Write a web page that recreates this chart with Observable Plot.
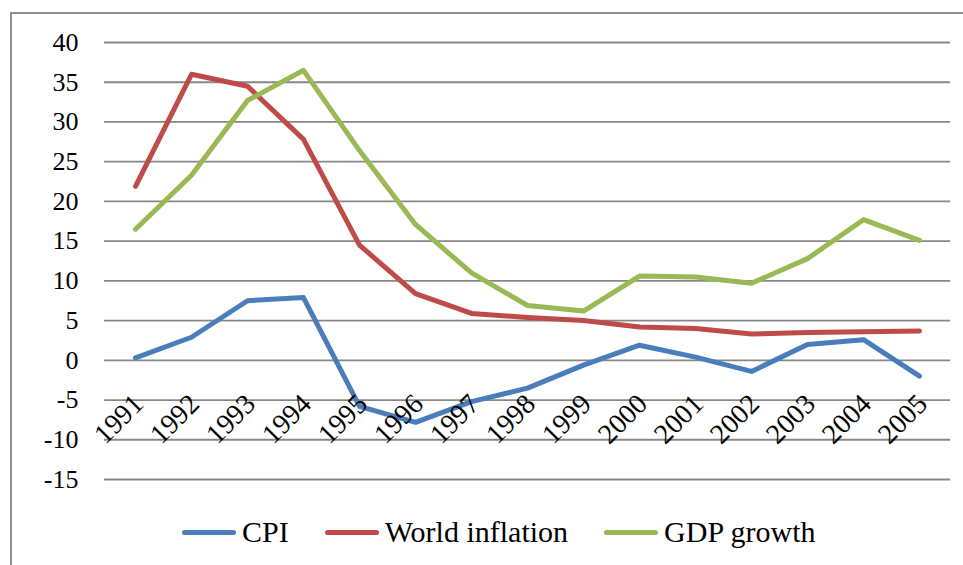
<!DOCTYPE html>
<html>
<head>
<meta charset="utf-8">
<script src="https://cdn.jsdelivr.net/npm/d3@7"></script>
<script src="https://cdn.jsdelivr.net/npm/@observablehq/plot@0.6"></script>
<style>
  html, body { margin: 0; padding: 0; background: #fff; }
  body { width: 963px; height: 565px; overflow: hidden; position: relative; font-family: "Liberation Serif", serif; }
  #frame { position: absolute; left: 10px; top: 12px; width: 980px; height: 600px; border-top: 2px solid #8e8e8e; border-left: 2px solid #8e8e8e; }
  #chart { position: absolute; left: 0; top: 0; }
  #chart svg, #chart svg g, #chart svg text { font-family: "Liberation Serif", serif !important; }
  #legend { position: absolute; left: 182px; top: 515px; display: flex; align-items: center; font-size: 30px; color: #000; white-space: nowrap; }
  .item { display: flex; align-items: center; margin-right: 36px; }
  .sw { display: inline-block; width: 54px; height: 5px; border-radius: 3px; margin-right: 6px; }
</style>
</head>
<body>
<div id="frame"></div>
<div id="chart"></div>
<div id="legend"></div>
<script>
const years = [1991,1992,1993,1994,1995,1996,1997,1998,1999,2000,2001,2002,2003,2004,2005];
const cpi = [0.3, 2.9, 7.5, 7.9, -5.8, -7.8, -5.2, -3.5, -0.6, 1.9, 0.4, -1.4, 2.0, 2.6, -2.0];
const worldInflation = [21.9, 36.0, 34.5, 27.8, 14.5, 8.4, 5.9, 5.4, 5.0, 4.2, 4.0, 3.3, 3.5, 3.6, 3.7];
const gdpGrowth = [16.5, 23.3, 32.7, 36.5, 26.4, 17.1, 11.0, 6.9, 6.2, 10.6, 10.5, 9.7, 12.8, 17.7, 15.1];
const yTicks = [-15, -10, -5, 0, 5, 10, 15, 20, 25, 30, 35, 40];
const seriesNames = ["CPI", "World inflation", "GDP growth"];
const seriesColors = ["#4a7ebb", "#be4b48", "#98b954"];
const seriesValues = [cpi, worldInflation, gdpGrowth];
const serif = "Liberation Serif";

const rows = [];
seriesNames.forEach((name, s) => {
  years.forEach((yr, i) => rows.push({series: name, year: yr, value: seriesValues[s][i]}));
});

const chart = Plot.plot({
  width: 963,
  height: 500,
  marginLeft: 104,
  marginRight: 13,
  marginTop: 42,
  marginBottom: 21,
  style: "font-family: 'Liberation Serif', serif; background: transparent;",
  x: {type: "point", domain: years, padding: 0.5, label: null},
  y: {domain: [-15, 40], label: null},
  color: {domain: seriesNames, range: seriesColors},
  marks: [
    Plot.ruleY(yTicks, {stroke: "#878787", strokeWidth: 1.8}),
    Plot.axisY({ticks: yTicks, tickSize: 0, tickPadding: 26, tickFormat: d => String(d), fontSize: 26, fontFamily: serif, fill: "#000", label: null}),
    Plot.line(rows, {x: "year", y: "value", z: "series", stroke: "series", strokeWidth: 5, strokeLinejoin: "round", strokeLinecap: "round"}),
    Plot.axisX({tickSize: 0, tickRotate: -45, tickFormat: d => String(d), fontSize: 28, fontFamily: serif, fill: "#000", dy: -92, dx: 3, label: null})
  ]
});
document.getElementById("chart").appendChild(chart);

const legend = document.getElementById("legend");
seriesNames.forEach((name, i) => {
  const item = document.createElement("div");
  item.className = "item";
  const sw = document.createElement("span");
  sw.className = "sw";
  sw.style.background = seriesColors[i];
  const t = document.createElement("span");
  t.textContent = name;
  item.appendChild(sw);
  item.appendChild(t);
  legend.appendChild(item);
});
</script>
</body>
</html>
